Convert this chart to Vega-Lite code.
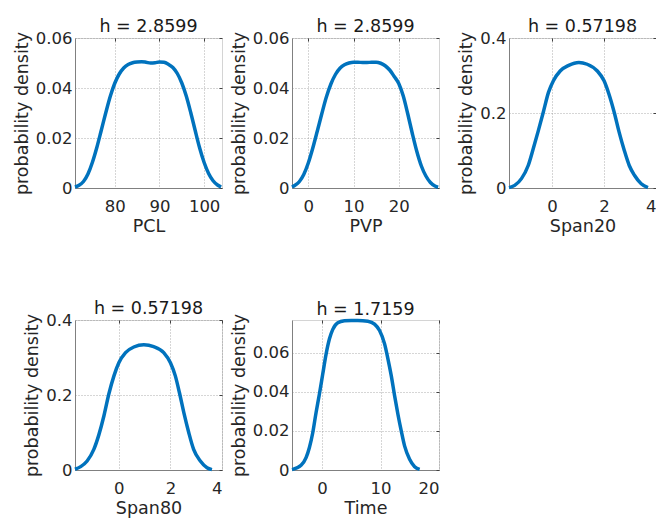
{
  "$schema": "https://vega.github.io/schema/vega-lite/v6.json",
  "padding": {"left": 12, "top": 17, "right": 0, "bottom": 0},
  "columns": 3,
  "spacing": {"row": 132, "column": 70},
  "bounds": "flush",
  "align": "all",
  "datasets": {
    "pcl": [
      {"x": 71.1, "y": 0.0004}, {"x": 72, "y": 0.0011}, {"x": 73, "y": 0.0026}, {"x": 74, "y": 0.0056},
      {"x": 75, "y": 0.0103}, {"x": 76, "y": 0.0163}, {"x": 77, "y": 0.0232}, {"x": 78, "y": 0.0302},
      {"x": 79, "y": 0.0367}, {"x": 80, "y": 0.0419}, {"x": 81, "y": 0.0456}, {"x": 82, "y": 0.048},
      {"x": 83, "y": 0.0494}, {"x": 84, "y": 0.0501}, {"x": 85, "y": 0.0504}, {"x": 86, "y": 0.0505},
      {"x": 87, "y": 0.0503}, {"x": 88, "y": 0.05}, {"x": 89, "y": 0.0501}, {"x": 90, "y": 0.0504},
      {"x": 91, "y": 0.0503}, {"x": 92, "y": 0.0495}, {"x": 93, "y": 0.0482}, {"x": 94, "y": 0.0458},
      {"x": 95, "y": 0.042}, {"x": 96, "y": 0.0368}, {"x": 97, "y": 0.0302}, {"x": 98, "y": 0.023},
      {"x": 99, "y": 0.016}, {"x": 100, "y": 0.0102}, {"x": 101, "y": 0.0058}, {"x": 102, "y": 0.0029},
      {"x": 103, "y": 0.0012}, {"x": 103.8, "y": 0.0004}
    ],
    "pvp": [
      {"x": -3.6, "y": 0.0004}, {"x": -3, "y": 0.001}, {"x": -2, "y": 0.0025}, {"x": -1, "y": 0.0054},
      {"x": 0, "y": 0.01}, {"x": 1, "y": 0.016}, {"x": 2, "y": 0.0228}, {"x": 3, "y": 0.0298},
      {"x": 4, "y": 0.0364}, {"x": 5, "y": 0.0416}, {"x": 6, "y": 0.0454}, {"x": 7, "y": 0.0479},
      {"x": 8, "y": 0.0493}, {"x": 9, "y": 0.05}, {"x": 10, "y": 0.0503}, {"x": 11, "y": 0.0503},
      {"x": 12, "y": 0.0502}, {"x": 13, "y": 0.0502}, {"x": 14, "y": 0.0503}, {"x": 15, "y": 0.0503},
      {"x": 16, "y": 0.0499}, {"x": 17, "y": 0.0489}, {"x": 18, "y": 0.0472}, {"x": 19, "y": 0.0446},
      {"x": 20, "y": 0.0418}, {"x": 21, "y": 0.0368}, {"x": 22, "y": 0.0296}, {"x": 23, "y": 0.0218},
      {"x": 24, "y": 0.0146}, {"x": 25, "y": 0.0088}, {"x": 26, "y": 0.0048}, {"x": 27, "y": 0.0022},
      {"x": 28, "y": 0.0008}, {"x": 28.7, "y": 0.0003}
    ],
    "span20": [
      {"x": -1.66, "y": 0.001}, {"x": -1.44, "y": 0.007}, {"x": -1.18, "y": 0.025}, {"x": -0.92, "y": 0.06},
      {"x": -0.73, "y": 0.104}, {"x": -0.53, "y": 0.153}, {"x": -0.34, "y": 0.202}, {"x": -0.14, "y": 0.255},
      {"x": 0.05, "y": 0.286}, {"x": 0.31, "y": 0.312}, {"x": 0.64, "y": 0.327}, {"x": 1.03, "y": 0.335},
      {"x": 1.35, "y": 0.33}, {"x": 1.74, "y": 0.312}, {"x": 2.0, "y": 0.286}, {"x": 2.19, "y": 0.25},
      {"x": 2.39, "y": 0.202}, {"x": 2.58, "y": 0.149}, {"x": 2.78, "y": 0.1}, {"x": 2.97, "y": 0.06},
      {"x": 3.17, "y": 0.034}, {"x": 3.43, "y": 0.0115}, {"x": 3.69, "y": 0.001}
    ],
    "span80": [
      {"x": -1.7, "y": 0.002}, {"x": -1.48, "y": 0.009}, {"x": -1.23, "y": 0.024}, {"x": -0.97, "y": 0.055},
      {"x": -0.77, "y": 0.095}, {"x": -0.58, "y": 0.144}, {"x": -0.39, "y": 0.202}, {"x": -0.19, "y": 0.251},
      {"x": 0, "y": 0.286}, {"x": 0.26, "y": 0.313}, {"x": 0.58, "y": 0.328}, {"x": 0.97, "y": 0.334},
      {"x": 1.35, "y": 0.329}, {"x": 1.74, "y": 0.313}, {"x": 2.0, "y": 0.286}, {"x": 2.19, "y": 0.251},
      {"x": 2.35, "y": 0.206}, {"x": 2.52, "y": 0.153}, {"x": 2.71, "y": 0.1}, {"x": 2.9, "y": 0.055},
      {"x": 3.16, "y": 0.024}, {"x": 3.42, "y": 0.006}, {"x": 3.61, "y": 0.001}
    ],
    "time": [
      {"x": -5.15, "y": 0.0002}, {"x": -3.6, "y": 0.0024}, {"x": -2.74, "y": 0.0063}, {"x": -2.17, "y": 0.0115},
      {"x": -1.6, "y": 0.019}, {"x": -1.03, "y": 0.0294}, {"x": -0.46, "y": 0.0388}, {"x": 0.11, "y": 0.049},
      {"x": 0.69, "y": 0.0593}, {"x": 1.26, "y": 0.067}, {"x": 1.83, "y": 0.0718}, {"x": 2.69, "y": 0.0752},
      {"x": 3.83, "y": 0.0762}, {"x": 5.0, "y": 0.0764}, {"x": 6.1, "y": 0.0764}, {"x": 7.83, "y": 0.076},
      {"x": 8.97, "y": 0.0745}, {"x": 9.83, "y": 0.0712}, {"x": 10.69, "y": 0.0644}, {"x": 11.26, "y": 0.0568},
      {"x": 11.83, "y": 0.0482}, {"x": 12.4, "y": 0.038}, {"x": 12.97, "y": 0.0285}, {"x": 13.54, "y": 0.02},
      {"x": 14.11, "y": 0.0123}, {"x": 14.97, "y": 0.0055}, {"x": 15.83, "y": 0.0017}, {"x": 16.69, "y": 0.0003}
    ]
  },
  "concat": [
    {
      "width": 147, "height": 150,
      "title": "h = 2.8599",
      "data": {"name": "pcl"},
      "layer": [
        {
          "mark": {"type": "line", "color": "#0072BD", "strokeWidth": 3.5, "interpolate": "monotone"},
          "encoding": {
            "x": {"field": "x", "type": "quantitative", "scale": {"domain": [71.1, 104], "nice": false, "zero": false},
                  "axis": {"title": "PCL", "values": [80, 90, 100], "grid": true}},
            "y": {"field": "y", "type": "quantitative", "scale": {"domain": [0, 0.06], "nice": false},
                  "axis": {"title": "probability density", "values": [0, 0.02, 0.04, 0.06], "format": "~g", "grid": true}}
          }
        },
        {
          "mark": {"type": "line", "opacity": 0},
          "encoding": {
            "x": {"field": "x", "type": "quantitative", "scale": {"domain": [71.1, 104], "nice": false, "zero": false},
                  "axis": {"orient": "top", "title": null, "values": [80, 90, 100], "labels": false, "grid": false, "domain": false, "ticks": true, "tickSize": -3, "tickColor": "#404040"}},
            "y": {"field": "y", "type": "quantitative", "scale": {"domain": [0, 0.06], "nice": false},
                  "axis": {"orient": "right", "title": null, "values": [0, 0.02, 0.04, 0.06], "labels": false, "grid": false, "domain": false, "ticks": true, "tickSize": -3, "tickColor": "#404040"}}
          }
        }
      ],
      "resolve": {"axis": {"x": "independent", "y": "independent"}}
    },
    {
      "width": 147, "height": 150,
      "title": "h = 2.8599",
      "data": {"name": "pvp"},
      "layer": [
        {
          "mark": {"type": "line", "color": "#0072BD", "strokeWidth": 3.5, "interpolate": "monotone"},
          "encoding": {
            "x": {"field": "x", "type": "quantitative", "scale": {"domain": [-3.6, 28.9], "nice": false, "zero": false},
                  "axis": {"title": "PVP", "values": [0, 10, 20], "grid": true}},
            "y": {"field": "y", "type": "quantitative", "scale": {"domain": [0, 0.06], "nice": false},
                  "axis": {"title": "probability density", "values": [0, 0.02, 0.04, 0.06], "format": "~g", "grid": true}}
          }
        },
        {
          "mark": {"type": "line", "opacity": 0},
          "encoding": {
            "x": {"field": "x", "type": "quantitative", "scale": {"domain": [-3.6, 28.9], "nice": false, "zero": false},
                  "axis": {"orient": "top", "title": null, "values": [0, 10, 20], "labels": false, "grid": false, "domain": false, "ticks": true, "tickSize": -3, "tickColor": "#404040"}},
            "y": {"field": "y", "type": "quantitative", "scale": {"domain": [0, 0.06], "nice": false},
                  "axis": {"orient": "right", "title": null, "values": [0, 0.02, 0.04, 0.06], "labels": false, "grid": false, "domain": false, "ticks": true, "tickSize": -3, "tickColor": "#404040"}}
          }
        }
      ],
      "resolve": {"axis": {"x": "independent", "y": "independent"}}
    },
    {
      "width": 147, "height": 150,
      "title": "h = 0.57198",
      "data": {"name": "span20"},
      "layer": [
        {
          "mark": {"type": "line", "color": "#0072BD", "strokeWidth": 3.5, "interpolate": "monotone"},
          "encoding": {
            "x": {"field": "x", "type": "quantitative", "scale": {"domain": [-1.66, 4], "nice": false, "zero": false},
                  "axis": {"title": "Span20", "values": [0, 2, 4], "grid": true}},
            "y": {"field": "y", "type": "quantitative", "scale": {"domain": [0, 0.4], "nice": false},
                  "axis": {"title": "probability density", "values": [0, 0.2, 0.4], "format": "~g", "grid": true}}
          }
        },
        {
          "mark": {"type": "line", "opacity": 0},
          "encoding": {
            "x": {"field": "x", "type": "quantitative", "scale": {"domain": [-1.66, 4], "nice": false, "zero": false},
                  "axis": {"orient": "top", "title": null, "values": [0, 2, 4], "labels": false, "grid": false, "domain": false, "ticks": true, "tickSize": -3, "tickColor": "#404040"}},
            "y": {"field": "y", "type": "quantitative", "scale": {"domain": [0, 0.4], "nice": false},
                  "axis": {"orient": "right", "title": null, "values": [0, 0.2, 0.4], "labels": false, "grid": false, "domain": false, "ticks": true, "tickSize": -3, "tickColor": "#404040"}}
          }
        }
      ],
      "resolve": {"axis": {"x": "independent", "y": "independent"}}
    },
    {
      "width": 147, "height": 150,
      "title": "h = 0.57198",
      "data": {"name": "span80"},
      "layer": [
        {
          "mark": {"type": "line", "color": "#0072BD", "strokeWidth": 3.5, "interpolate": "monotone"},
          "encoding": {
            "x": {"field": "x", "type": "quantitative", "scale": {"domain": [-1.7, 4], "nice": false, "zero": false},
                  "axis": {"title": "Span80", "values": [0, 2, 4], "grid": true}},
            "y": {"field": "y", "type": "quantitative", "scale": {"domain": [0, 0.4], "nice": false},
                  "axis": {"title": "probability density", "values": [0, 0.2, 0.4], "format": "~g", "grid": true}}
          }
        },
        {
          "mark": {"type": "line", "opacity": 0},
          "encoding": {
            "x": {"field": "x", "type": "quantitative", "scale": {"domain": [-1.7, 4], "nice": false, "zero": false},
                  "axis": {"orient": "top", "title": null, "values": [0, 2, 4], "labels": false, "grid": false, "domain": false, "ticks": true, "tickSize": -3, "tickColor": "#404040"}},
            "y": {"field": "y", "type": "quantitative", "scale": {"domain": [0, 0.4], "nice": false},
                  "axis": {"orient": "right", "title": null, "values": [0, 0.2, 0.4], "labels": false, "grid": false, "domain": false, "ticks": true, "tickSize": -3, "tickColor": "#404040"}}
          }
        }
      ],
      "resolve": {"axis": {"x": "independent", "y": "independent"}}
    },
    {
      "width": 147, "height": 150,
      "title": "h = 1.7159",
      "data": {"name": "time"},
      "layer": [
        {
          "mark": {"type": "line", "color": "#0072BD", "strokeWidth": 3.5, "interpolate": "monotone"},
          "encoding": {
            "x": {"field": "x", "type": "quantitative", "scale": {"domain": [-5.15, 20], "nice": false, "zero": false},
                  "axis": {"title": "Time", "values": [0, 10, 20], "grid": true}},
            "y": {"field": "y", "type": "quantitative", "scale": {"domain": [0, 0.0766], "nice": false},
                  "axis": {"title": "probability density", "values": [0, 0.02, 0.04, 0.06], "format": "~g", "grid": true}}
          }
        },
        {
          "mark": {"type": "line", "opacity": 0},
          "encoding": {
            "x": {"field": "x", "type": "quantitative", "scale": {"domain": [-5.15, 20], "nice": false, "zero": false},
                  "axis": {"orient": "top", "title": null, "values": [0, 10, 20], "labels": false, "grid": false, "domain": false, "ticks": true, "tickSize": -3, "tickColor": "#404040"}},
            "y": {"field": "y", "type": "quantitative", "scale": {"domain": [0, 0.0766], "nice": false},
                  "axis": {"orient": "right", "title": null, "values": [0, 0.02, 0.04, 0.06], "labels": false, "grid": false, "domain": false, "ticks": true, "tickSize": -3, "tickColor": "#404040"}}
          }
        }
      ],
      "resolve": {"axis": {"x": "independent", "y": "independent"}}
    }
  ],
  "config": {
    "font": "DejaVu Sans",
    "view": {"stroke": "#d4d4d4", "strokeWidth": 1},
    "axis": {
      "labelFont": "DejaVu Sans", "labelFontSize": 16.5, "labelColor": "#262626",
      "titleFont": "DejaVu Sans", "titleFontSize": 17.5, "titleFontWeight": "normal", "titleColor": "#262626",
      "domainColor": "#808080", "domainWidth": 1,
      "ticks": false, "labelPadding": 3, "titlePadding": 4,
      "gridColor": "#8c8c8c", "gridDash": [1, 2], "gridWidth": 0.8, "gridOpacity": 0.9
    },
    "axisX": {"labelPadding": 10, "titlePadding": 3},
    "title": {"font": "DejaVu Sans", "fontSize": 17.5, "fontWeight": "normal", "color": "#1a1a1a", "offset": -5}
  }
}
